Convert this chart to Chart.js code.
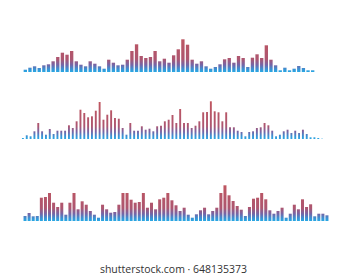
<!DOCTYPE html>
<html>
<head>
<meta charset="utf-8">
<script src="https://cdn.jsdelivr.net/npm/chart.js@4/dist/chart.umd.min.js"></script>
<style>
  html, body { margin: 0; padding: 0; background: #fff; }
  body { width: 347px; height: 280px; position: relative; overflow: hidden; }
  canvas { position: absolute; }
  #row1 { left: 23px; top: 32px; }
  #row2 { left: 21px; top: 99px; }
  #row3 { left: 23px; top: 181px; }
  #footer {
    position: absolute; left: 0; width: 347px; top: 262px;
    text-align: center; font: 10.5px "Open Sans", sans-serif; color: #333;
  }
</style>
</head>
<body>
<canvas id="row1" width="292" height="40"></canvas>
<canvas id="row2" width="303" height="40"></canvas>
<canvas id="row3" width="306" height="40"></canvas>
<div id="footer">shutterstock.com · 648135373</div>
<script>
// --------------------------------
// Data (bar heights)
// --------------------------------

const topWave = [
    2.3, 4.3, 5.7, 4, 6.7, 7.7, 10.7, 15, 19.3, 17.3, 21, 10.7, 7.3, 5.7, 10.7, 8.3, 5.7, 3.3,
    12.3, 9.3, 6.7, 7.3, 12.3, 21, 27.7, 16, 14, 15, 21, 10.7, 13.3, 9.3, 16.7,
    22.7, 32.7, 27.3, 12.3, 8.3, 10.7, 5.7, 3.3, 5, 7.7, 12.7,
    14, 9.3, 16, 14, 5, 14.3, 17.7, 14, 26.7, 12.3, 6.7, 1.7, 4.3, 1.7, 3.3, 6, 4, 1.7, 1.7
];

const middleWave = [
    1, 3.7, 2.7, 7.7, 16, 7.7, 4.3, 10, 5, 8.3, 8.3, 8.3, 13.7, 11, 17.7, 29.3, 26, 21.7, 22.7, 28.3,
    37, 19.3, 24.3, 28.7, 21, 20.3, 11, 4.3, 16, 8.3, 8.3, 12.7, 9.3, 10.3, 7.7, 12.7, 13.3, 17.7, 19.3, 24,
    16, 30, 16, 16, 11, 13.3, 17.7, 26.7, 27, 37.7, 27.7, 26.7, 17.7, 26.7, 11.7, 11.7, 8.3, 7, 2.7, 7,
    7.7, 11, 11.7, 16, 13.7, 8.3, 2.7, 4.3, 7.7, 9.3, 6, 8.3, 6, 9.3, 5, 1.7, 1.7, 1, 0.3
];

const bottomWave = [
    5, 8, 4.7, 5, 23.3, 24, 28, 18.3, 14, 18.3, 6.3, 18.3, 28, 11.7, 19.7, 16.3, 10, 6.3, 3.3,
    16.3, 11.7, 8.3, 9, 16.3, 28, 28, 21.3, 18.3, 19, 28, 13.3, 18.3, 11.7, 21.7, 23.3, 28, 20.7,
    15.7, 10, 13.3, 6.3, 3.3, 6.7, 10.7, 13.3, 6.7, 10, 13.3, 28, 35.7, 25.7, 20, 15, 11.3, 5,
    14, 22.3, 23.3, 28, 21.7, 10.7, 7.3, 10, 13.3, 3.3, 7.3, 16.3, 11.7, 21.7, 14, 16.7, 4.7, 7.3, 7.3, 5.7
];

const yMax = 40;

// --------------------------------
// Functions
// --------------------------------

// blue at the baseline, turning purple then red further up
function waveGradient(context) {
    const area = context.chart.chartArea;
    if (!area) return '#2aa2de';
    const g = context.chart.ctx.createLinearGradient(0, area.bottom, 0, area.top);
    g.addColorStop(0, '#27a8e4');
    g.addColorStop(0.07, '#3a92d4');
    g.addColorStop(0.18, '#7664a6');
    g.addColorStop(0.32, '#ad5670');
    g.addColorStop(1, '#c2565d');
    return g;
}

function drawWave(id, values, barPct) {
    return new Chart(document.getElementById(id), {
        type: 'bar',
        data: {
            labels: values.map((v, i) => i),
            datasets: [{
                data: values,
                backgroundColor: waveGradient,
                borderWidth: 0,
                barPercentage: barPct,
                categoryPercentage: 1
            }]
        },
        options: {
            responsive: false,
            animation: false,
            devicePixelRatio: 1,
            layout: { padding: 0 },
            plugins: {
                legend: { display: false },
                tooltip: { enabled: false }
            },
            scales: {
                x: { display: false, offset: true },
                y: { display: false, min: 0, max: yMax }
            }
        }
    });
}

drawWave('row1', topWave, 0.72);
drawWave('row2', middleWave, 0.5);
drawWave('row3', bottomWave, 0.74);
</script>
</body>
</html>
